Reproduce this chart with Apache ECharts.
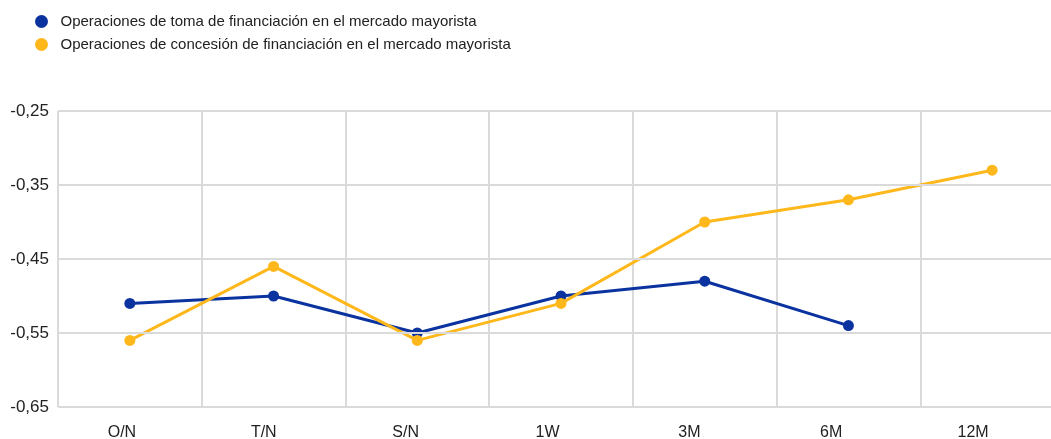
<!DOCTYPE html>
<html>
<head>
<meta charset="utf-8">
<script src="https://cdn.jsdelivr.net/npm/echarts@6/dist/echarts.min.js"></script>
<style>
html,body{margin:0;padding:0;background:#fff;}
#chart{width:1051px;height:439px;}
</style>
</head>
<body>
<div id="chart"></div>
<script>
const categories = ['O/N', 'T/N', 'S/N', '1W', '3M', '6M', '12M'];
const tomaValues = [-0.51, -0.50, -0.55, -0.50, -0.48, -0.54, null];
const concesionValues = [-0.56, -0.46, -0.56, -0.51, -0.40, -0.37, -0.33];
const yTicks = [-0.25, -0.35, -0.45, -0.55, -0.65];
const seriesNames = [
  'Operaciones de toma de financiación en el mercado mayorista',
  'Operaciones de concesión de financiación en el mercado mayorista'
];

const gridColor = '#dadada';
const fontFam = '"Liberation Sans", Arial, sans-serif';

const chart = echarts.init(document.getElementById('chart'));
chart.setOption({
  animation: false,
  backgroundColor: '#ffffff',
  textStyle: { fontFamily: fontFam },
  legend: {
    orient: 'vertical',
    left: 30,
    top: 9,
    itemWidth: 26,
    itemHeight: 13,
    itemGap: 8,
    icon: 'circle',
    textStyle: { fontSize: 15, color: '#222', fontFamily: fontFam, padding: [0, 0, 0, 1] },
    data: seriesNames
  },
  grid: [
    { left: 58, width: 1006, top: 111, bottom: 32, containLabel: false, outerBoundsMode: 'none' },
    { left: 51, right: 7, top: 111, bottom: 32, containLabel: false, outerBoundsMode: 'none' }
  ],
  xAxis: [
    {
      type: 'category',
      gridIndex: 0,
      data: categories,
      boundaryGap: true,
      axisLine: { show: false },
      axisTick: { show: false },
      axisLabel: { show: false },
      splitLine: { show: true, lineStyle: { color: gridColor, width: 2 } }
    },
    {
      type: 'category',
      gridIndex: 1,
      data: categories,
      boundaryGap: true,
      axisLine: { show: false },
      axisTick: { show: false },
      splitLine: { show: false },
      axisLabel: { show: true, fontSize: 16, color: '#222', margin: 18, fontFamily: fontFam }
    }
  ],
  yAxis: [
    {
      type: 'value',
      gridIndex: 0,
      min: -0.65,
      max: -0.25,
      interval: 0.05,
      axisLine: { show: false },
      axisTick: { show: false },
      splitLine: { show: false },
      axisLabel: {
        fontSize: 17,
        color: '#222',
        margin: 9,
        fontFamily: fontFam,
        formatter: function (v) {
          const hit = yTicks.some(t => Math.abs(t - v) < 1e-6);
          return hit ? v.toFixed(2).replace('.', ',') : '';
        }
      }
    },
    {
      type: 'value',
      gridIndex: 1,
      min: 0,
      max: 1,
      show: false
    }
  ],
  series: [
    {
      name: 'grid-lines',
      type: 'line',
      xAxisIndex: 0,
      yAxisIndex: 0,
      data: categories.map(() => null),
      silent: true,
      z: 1,
      showSymbol: false,
      markLine: {
        silent: true,
        symbol: ['none', 'none'],
        label: { show: false },
        lineStyle: { type: 'solid', color: gridColor, width: 2 },
        emphasis: { disabled: true },
        data: yTicks.map(v => ({ yAxis: v }))
      }
    },
    {
      name: seriesNames[0],
      type: 'line',
      xAxisIndex: 0,
      yAxisIndex: 0,
      data: tomaValues,
      z: 3,
      symbol: 'circle',
      symbolSize: 11,
      connectNulls: false,
      itemStyle: { color: '#0b33a0' },
      lineStyle: { color: '#0b33a0', width: 3 }
    },
    {
      name: seriesNames[1],
      type: 'line',
      xAxisIndex: 0,
      yAxisIndex: 0,
      data: concesionValues,
      z: 4,
      symbol: 'circle',
      symbolSize: 11,
      itemStyle: { color: '#ffb81c' },
      lineStyle: { color: '#ffb81c', width: 3 }
    }
  ]
});
</script>
</body>
</html>
